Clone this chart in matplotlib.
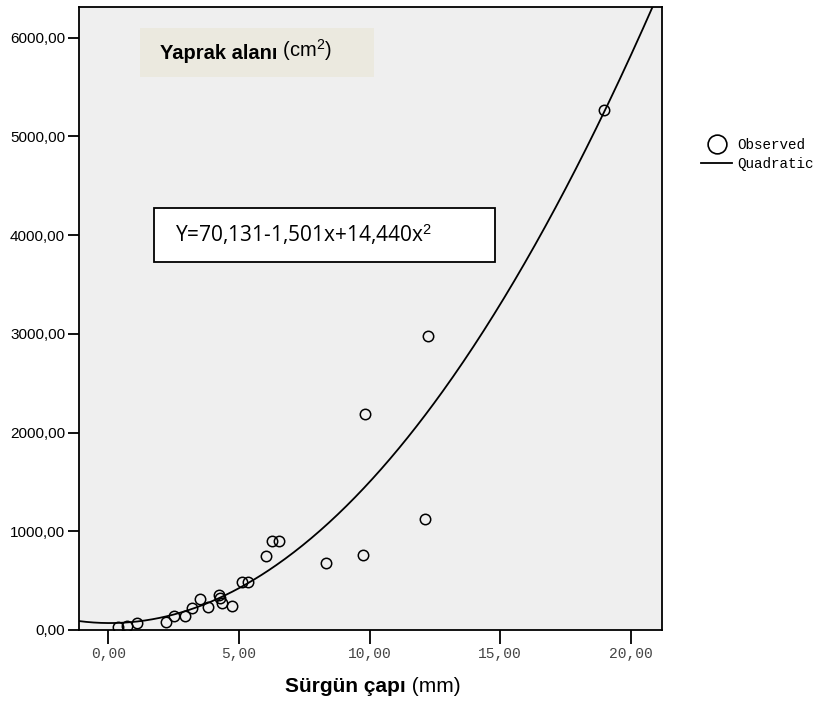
import matplotlib
matplotlib.use("Agg")
import matplotlib.pyplot as plt
from matplotlib.lines import Line2D
from matplotlib.patches import Rectangle
from matplotlib.text import Annotation
import numpy as np

# Data
diameter_mm = [0.38, 0.71, 1.10, 2.21, 2.51, 2.92, 3.21, 3.51, 3.82, 4.22, 4.28, 4.34,
               4.73, 5.11, 5.34, 6.03, 6.25, 6.54, 8.34, 9.76, 9.84, 12.13, 12.24, 18.98]
leaf_area = [26, 37, 74, 84, 145, 145, 226, 314, 229, 355, 320, 274,
             246, 487, 487, 750, 899, 899, 680, 761, 2184, 1129, 2982, 5269]
coef = [70.131, -1.501, 14.440]   # Y = a + b x + c x^2
x_ticks = [0, 5, 10, 15, 20]
x_tick_labels = ["0,00", "5,00", "10,00", "15,00", "20,00"]
y_ticks = [0, 1000, 2000, 3000, 4000, 5000, 6000]
y_tick_labels = ["0,00", "1000,00", "2000,00", "3000,00", "4000,00", "5000,00", "6000,00"]

plt.rcParams['mathtext.fontset'] = 'custom'
plt.rcParams['mathtext.rm'] = 'Liberation Sans'
plt.rcParams['mathtext.it'] = 'Liberation Sans'

fig = plt.figure(figsize=(8.21, 7.02), dpi=100)
ax = fig.add_axes([0.0962, 0.1026, 0.7101, 0.8875])
ax.set_facecolor("#efefef")

xlim = (-1.13, 21.2)
ylim = (0, 6310)
ax.set_xlim(*xlim)
ax.set_ylim(*ylim)

xs = np.linspace(xlim[0], xlim[1], 400)
ys = coef[0] + coef[1] * xs + coef[2] * xs ** 2
ax.plot(xs, ys, color="black", lw=1.3)
ax.plot(diameter_mm, leaf_area, linestyle="none", marker="o", markersize=7.5,
        markerfacecolor="none", markeredgecolor="black", markeredgewidth=1.1)

for s in ax.spines.values():
    s.set_linewidth(1.3)

ax.set_xticks(x_ticks)
ax.set_xticklabels(x_tick_labels, family="Liberation Mono", fontsize=10.5, color="#444444")
ax.set_yticks(y_ticks)
ax.set_yticklabels(y_tick_labels, family="Liberation Sans", fontsize=11)
ax.tick_params(axis="x", direction="out", length=10, width=1.3, pad=2)
ax.tick_params(axis="y", direction="out", length=8, width=1.3, pad=2)

# Title box
ax.add_patch(Rectangle((0.104, 0.888), 0.402, 0.078, transform=ax.transAxes,
                       facecolor="#ebe9df", edgecolor="none", zorder=3))
t1 = ax.text(0.139, 0.926, "Yaprak alanı", transform=ax.transAxes, fontsize=14.5,
             fontweight="bold", family="Liberation Sans", va="center", zorder=4)
ax.annotate(" (cm$^2$)", xy=(1, 0), xycoords=t1, va="bottom", ha="left",
            fontsize=14.5, family="Liberation Sans", zorder=4)

# Equation box
ax.add_patch(Rectangle((0.129, 0.590), 0.585, 0.088, transform=ax.transAxes,
                       facecolor="white", edgecolor="black", lw=1.3, zorder=3))
ax.text(0.165, 0.634, "Y=70,131-1,501x+14,440x$^2$", transform=ax.transAxes,
        fontsize=15, family="Open Sans", va="center", zorder=4)

# x label
xl = fig.text(0.347, 0.009, "Sürgün çapı", fontsize=15, fontweight="bold",
              family="Liberation Sans", ha="left", va="bottom")
fig.add_artist(Annotation(" (mm)", xy=(1, 0), xycoords=xl, va="bottom", ha="left",
                          fontsize=15, family="Liberation Sans"))

handles = [Line2D([], [], linestyle="none", marker="o", markersize=13.5,
                  markerfacecolor="none", markeredgecolor="black", markeredgewidth=1.2),
           Line2D([], [], color="black", lw=1.3)]
fig.legend(handles, ["Observed", "Quadratic"], loc="upper left",
           bbox_to_anchor=(0.845, 0.814), frameon=False, handlelength=2.2,
           handletextpad=0.35, labelspacing=0.4, borderpad=0,
           prop={"family": "Liberation Mono", "size": 10.3})

fig.savefig("out.png", dpi=100)
